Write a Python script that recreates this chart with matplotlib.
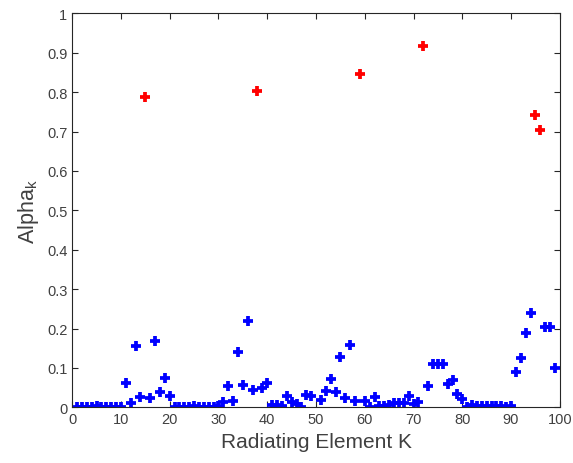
import numpy as np
import matplotlib
matplotlib.use('Agg')
import matplotlib.pyplot as plt

plt.rcParams['font.family'] = ['Liberation Sans', 'DejaVu Sans']
plt.rcParams['mathtext.fontset'] = 'custom'
plt.rcParams['mathtext.rm'] = 'Liberation Sans'

# blue points (element index, alpha)
blue_k = [1, 2, 3, 4, 5, 6, 7, 8, 9, 10,
          11, 12, 13, 14, 16, 17, 18, 19, 20,
          21, 22, 23, 24, 25, 26, 27, 28, 29, 30,
          31, 32, 33, 34, 35, 36, 37, 39, 40,
          41, 42, 43, 44, 45, 46, 47, 48, 49,
          51, 52, 53, 54, 55, 56, 57, 58, 60,
          61, 62, 63, 64, 65, 66, 67, 68, 69, 70,
          71, 73, 74, 75, 76, 77, 78, 79, 80,
          81, 82, 83, 84, 85, 86, 87, 88, 89, 90,
          91, 92, 93, 94, 97, 98, 99]
blue_val = [0.002, 0.002, 0.002, 0.001, 0.003, 0.002, 0.002, 0.001, 0.001, 0.001,
            0.063, 0.010, 0.156, 0.025, 0.023, 0.168, 0.040, 0.074, 0.030,
            0.001, 0.001, 0.001, 0.002, 0.004, 0.002, 0.001, 0.002, 0.002, 0.004,
            0.013, 0.055, 0.016, 0.141, 0.057, 0.219, 0.044, 0.048, 0.063,
            0.005, 0.005, 0.003, 0.028, 0.014, 0.009, 0.002, 0.032, 0.030,
            0.019, 0.042, 0.072, 0.040, 0.129, 0.023, 0.158, 0.015, 0.017,
            0.002, 0.026, 0.004, 0.004, 0.007, 0.010, 0.010, 0.010, 0.030, 0.009,
            0.014, 0.054, 0.109, 0.109, 0.109, 0.060, 0.070, 0.034, 0.022,
            0.001, 0.006, 0.004, 0.004, 0.003, 0.004, 0.004, 0.004, 0.002, 0.004,
            0.090, 0.126, 0.188, 0.240, 0.205, 0.205, 0.099]

# red points
red_k = [15, 38, 59, 72, 95, 96]
red_val = [0.787, 0.803, 0.846, 0.917, 0.743, 0.704]

xticks = list(range(0, 101, 10))
yticks = [0, 0.1, 0.2, 0.3, 0.4, 0.5, 0.6, 0.7, 0.8, 0.9, 1]
ytick_labels = ['0', '0.1', '0.2', '0.3', '0.4', '0.5', '0.6', '0.7', '0.8', '0.9', '1']

fig = plt.figure(figsize=(5.73, 4.64), dpi=100)
ax = fig.add_axes([0.126, 0.12, 0.851, 0.849])

ax.plot(blue_k, blue_val, linestyle='none', marker='+', color='b',
        markersize=7.5, markeredgewidth=2.7)
ax.plot(red_k, red_val, linestyle='none', marker='+', color='r',
        markersize=7.5, markeredgewidth=2.7)

ax.set_xlim(0, 100)
ax.set_ylim(0, 1)
ax.set_xticks(xticks)
ax.set_yticks(yticks)
ax.set_yticklabels(ytick_labels)

dark = '#262626'
txt = '#404040'
for s in ax.spines.values():
    s.set_color(dark)
    s.set_linewidth(0.8)
ax.tick_params(direction='in', length=4, width=0.8, color=dark,
               labelcolor=txt, labelsize=10.5, top=True, right=True)

ax.set_xlabel('Radiating Element K', fontsize=15, color=txt, labelpad=4)
ax.set_ylabel('Alpha$_\\mathregular{k}$', fontsize=15.5, color=txt, labelpad=4)

fig.savefig('out.png', dpi=100)
